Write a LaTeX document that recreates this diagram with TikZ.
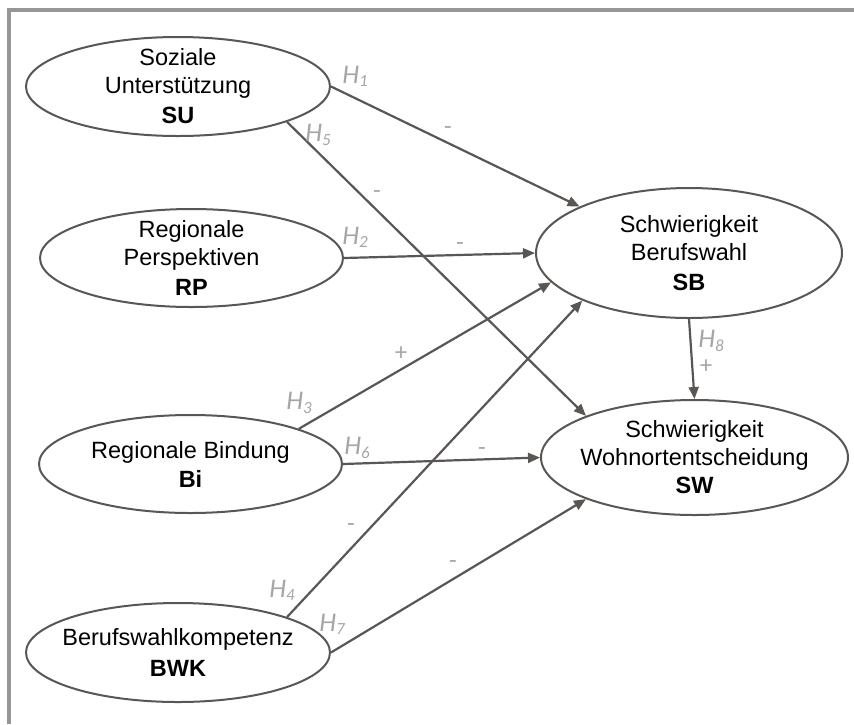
\documentclass[tikz,border=0pt]{standalone}
\usepackage{fontspec}
\setmainfont{Liberation Sans}
\newfontfamily\hypfont{Carlito}
\usetikzlibrary{shapes.geometric,arrows.meta}

\definecolor{edgegray}{HTML}{595654}
\definecolor{hypgray}{HTML}{A6A6A6}
\definecolor{framegray}{HTML}{969696}

\tikzset{
  construct/.style={ellipse, draw=edgegray, line width=2pt, fill=white,
    inner sep=0pt},
  ctext/.style={align=center, inner sep=0pt,
    font=\fontsize{23.5}{28}\selectfont},
  path/.style={draw=edgegray, line width=2.2pt,
    -{Triangle[length=12pt,width=10pt]}},
  hyp/.style={text=hypgray, inner sep=0pt,
    font=\hypfont\itshape\fontsize{27}{27}\selectfont},
  sign/.style={text=hypgray, inner sep=0pt,
    font=\hypfont\fontsize{25}{25}\selectfont},
}
\newcommand{\hlab}[1]{H\raisebox{-0.12em}{\fontsize{17}{17}\selectfont #1}}

\begin{document}
\begin{tikzpicture}[x=1pt,y=-1pt]
  \useasboundingbox (0,0) rectangle (854,724);

  % outer frame (top and left edges)
  \draw[framegray, line width=4pt] (854,10) -- (9,10) -- (9,724);

  % constructs (ellipse size fixed, text set as a centred label)
  \node[construct, minimum width=304pt, minimum height=99pt,
    label={[ctext]center:{Soziale\\Unterstützung\\[2pt]\textbf{SU}}}]
    (SU) at (178,86.5) {};
  \node[construct, minimum width=303pt, minimum height=98pt,
    label={[ctext]center:{Regionale\\Perspektiven\\[2pt]\textbf{RP}}}]
    (RP) at (191.5,258) {};
  \node[construct, minimum width=303pt, minimum height=98pt,
    label={[ctext]center:{Regionale Bindung\\[1pt]\textbf{Bi}}}]
    (Bi) at (190.5,464) {};
  \node[construct, minimum width=304pt, minimum height=99pt,
    label={[ctext]center:{Berufswahlkompetenz\\[3pt]\textbf{BWK}}}]
    (BWK) at (178,652.5) {};
  \node[construct, minimum width=306pt, minimum height=130pt,
    label={[ctext]center:{Schwierigkeit\\Berufswahl\\[2pt]\textbf{SB}}}]
    (SB) at (689,253) {};
  \node[construct, minimum width=307pt, minimum height=115pt,
    label={[ctext]center:{Schwierigkeit\\Wohnortentscheidung\\[0pt]\textbf{SW}}}]
    (SW) at (694.5,457.5) {};

  % hypothesised paths
  \draw[path] (SU.0)   -- (SB.157);
  \draw[path] (SU.-18) -- (SW.159);
  \draw[path] (RP.0)   -- (SB.180);
  \draw[path] (Bi.18)  -- (SB.192);
  \draw[path] (Bi.0)   -- (SW.180);
  \draw[path] (BWK.18) -- (SB.204);
  \draw[path] (BWK.0)  -- (SW.201);
  \draw[path] (SB.south) -- (SW.north);

  % hypothesis labels
  \node[hyp] (h1) at (355,76)  {\hlab{1}};
  \node[hyp] (h5) at (318,135) {\hlab{5}};
  \node[hyp] (h2) at (355,237) {\hlab{2}};
  \node[hyp] (h3) at (299,403) {\hlab{3}};
  \node[hyp] (h6) at (357,448) {\hlab{6}};
  \node[hyp] (h4) at (282,590) {\hlab{4}};
  \node[hyp] (h7) at (332,624) {\hlab{7}};
  \node[hyp] (h8) at (711,341) {\hlab{8}};

  % expected signs
  \node[sign] (s1) at (448,131) {-};
  \node[sign] (s5) at (377,195) {-};
  \node[sign] (s2) at (460,247) {-};
  \node[sign] (s3) at (401,354) {+};
  \node[sign] (s6) at (482,452) {-};
  \node[sign] (s4) at (351,528) {-};
  \node[sign] (s7) at (453,565) {-};
  \node[sign] (s8) at (706,367) {+};
\end{tikzpicture}
\end{document}
